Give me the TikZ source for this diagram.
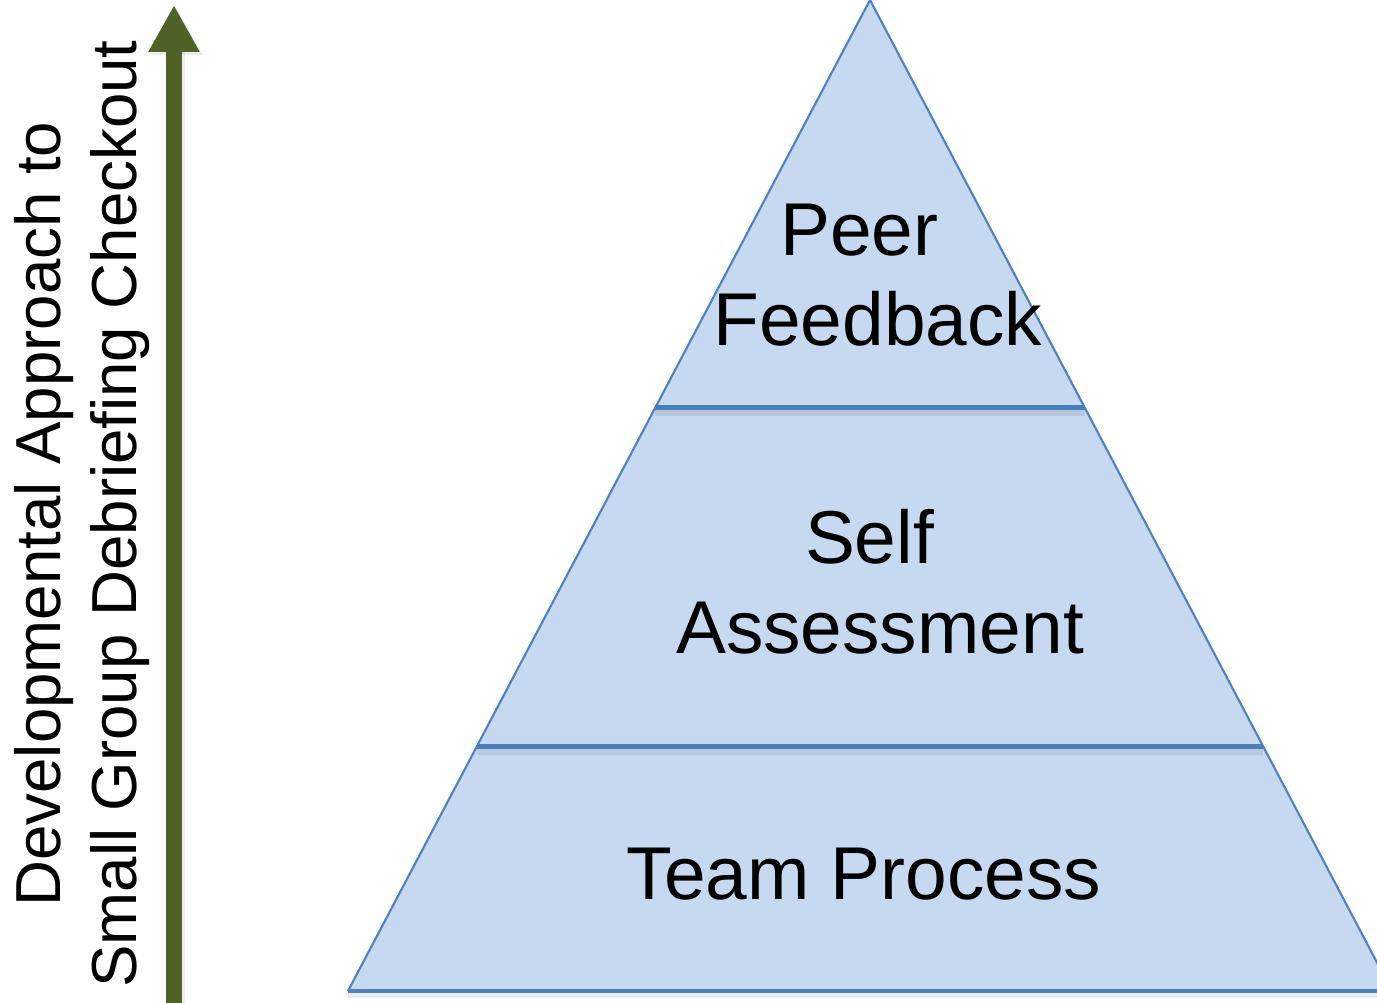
\documentclass[tikz,border=0pt]{standalone}
\usepackage{fontspec}
\setmainfont{Liberation Sans}
\usetikzlibrary{calc,arrows.meta}

\definecolor{tierfill}{HTML}{C6D9F1}
\definecolor{tierline}{HTML}{4F81BD}
\definecolor{tierbar}{HTML}{4A7EBB}
\definecolor{arrowgreen}{HTML}{4F6228}

\begin{document}
\begin{tikzpicture}[tier/.style={font=\fontsize{21.3pt}{25.5pt}\selectfont, align=center, inner sep=0pt},
    sidelabel/.style={font=\fontsize{18.1pt}{21.6pt}\selectfont, align=center, inner sep=0pt, rotate=90},
    bar/.style={tierbar, line width=1.4pt},
    barshadow/.style={black, opacity=0.08, line width=2pt}]
    \useasboundingbox (0,0) rectangle (13.77,10.03);
    \clip (0,0) rectangle (13.77,10.03);

    % corners of the pyramid
    \coordinate (apex) at (8.70,10.03);
    \coordinate (bl) at (3.48,0.12);
    \coordinate (br) at (13.92,0.12);
    \fill[tierfill] (apex) -- (bl) -- (br) -- cycle;

    % tier borders
    \coordinate (t1l) at ($(apex)!0.411!(bl)$);
    \coordinate (t1r) at ($(apex)!0.411!(br)$);
    \coordinate (t2l) at ($(apex)!0.753!(bl)$);
    \coordinate (t2r) at ($(apex)!0.753!(br)$);
    \draw[barshadow] ([yshift=-0.5mm]t1l) -- ([yshift=-0.5mm]t1r);
    \draw[barshadow] ([yshift=-0.5mm]t2l) -- ([yshift=-0.5mm]t2r);
    \draw[barshadow] ([yshift=-0.4mm]bl) -- ([yshift=-0.4mm]br);
    \draw[tierline, line width=0.6pt, line join=miter] (bl) -- (apex) -- (br);
    \draw[tierline, line width=1pt] (bl) -- (br);
    \draw[bar] (t1l) -- (t1r);
    \draw[bar] (t2l) -- (t2r);

    \node[tier] (peer) at (8.78,7.28) {Peer\hspace*{0.5em}\\Feedback};
    \node[tier] (self) at (8.80,4.21) {Self\hspace*{0.28em}\\Assessment};
    \node[tier] (team) at (8.64,1.29) {Team Process};

    % upward arrow
    \coordinate (up0) at (1.74,0);
    \coordinate (up1) at (1.74,9.98);
    \draw[black, opacity=0.07, line width=1.6mm, -{Triangle[width=4.8mm,length=4.7mm]}] ([xshift=0.3mm]up0) -- ([xshift=0.3mm,yshift=-0.3mm]up1);
    \draw[arrowgreen, line width=1.6mm, -{Triangle[width=4.8mm,length=4.7mm]}] (up0) -- (up1);
    \node[sidelabel] (axis) at (0.82,4.89) {Developmental Approach to\\Small Group Debriefing Checkout};
\end{tikzpicture}
\end{document}
